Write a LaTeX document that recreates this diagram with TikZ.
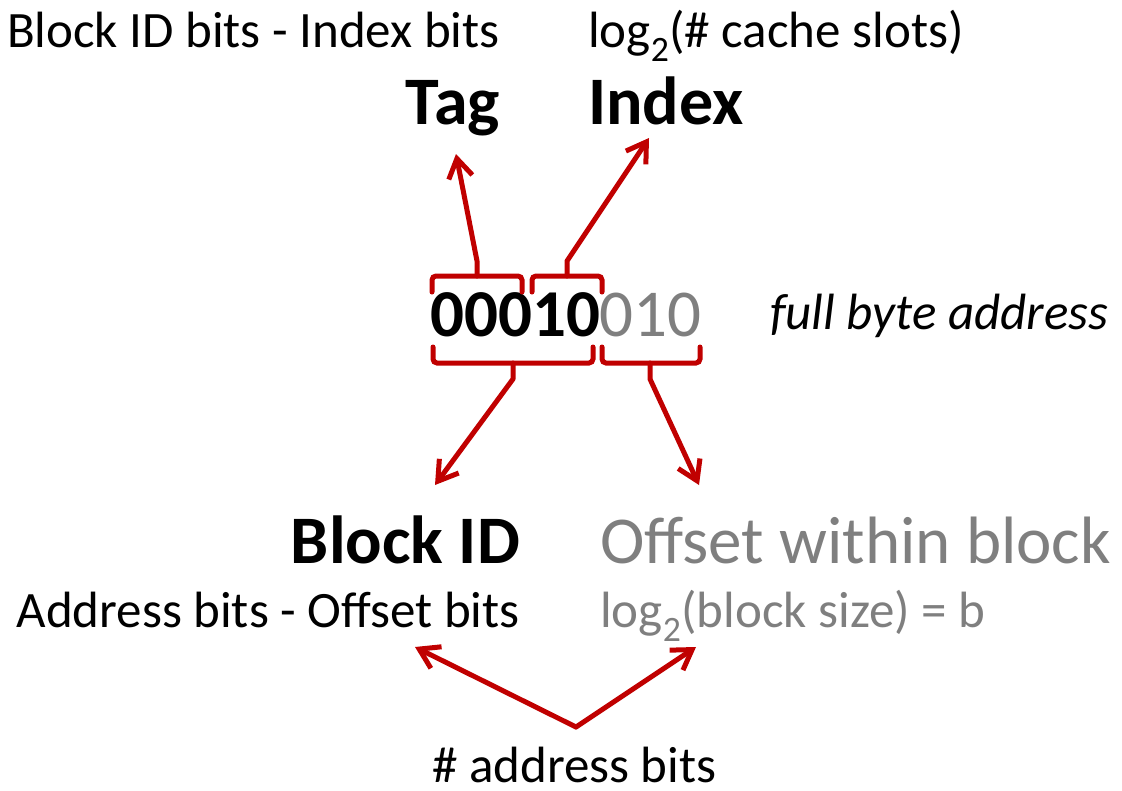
\documentclass[tikz,border=0pt]{standalone}
\usepackage{fontspec}
\setmainfont{Carlito}
\usetikzlibrary{arrows.meta}
\definecolor{accent}{HTML}{C00000}
\definecolor{muted}{HTML}{7F7F7F}

\begin{document}
\begin{tikzpicture}[x=1pt,y=-1pt,
  lbl/.style={inner sep=0pt, anchor=base west},
  lblr/.style={inner sep=0pt, anchor=base east},
  small/.style={font=\fontsize{51}{60}\selectfont},
  big/.style={font=\fontsize{67}{80}\selectfont},
  bigbold/.style={font=\fontsize{68}{80}\selectfont\bfseries},
  brace/.style={draw=accent, line width=5pt, rounded corners=4pt, line cap=round},
  pointer/.style={draw=accent, line width=5pt, line join=round, line cap=round,
    -{Straight Barb[length=19pt,width=24pt]}}]
\useasboundingbox (0,0) rectangle (1122,790);

% labels
\node[lblr, small] (tagrule) at (500,47) {Block ID bits - Index bits};
\node[lbl, small] (idxrule) at (588,47) {log\textsubscript{2}(\# cache slots)};
\node[lblr, bigbold] (tag) at (500,124) {Tag};
\node[lbl, bigbold] (index) at (588,124) {Index};
\node[lbl, font=\fontsize{67}{78}\selectfont] (addr) at (430,336) {\textbf{00010}\textcolor{muted}{010}};
\node[lbl, font=\fontsize{51}{60}\selectfont\itshape] (full) at (770,329) {full byte address};
\node[lblr, bigbold] (blockid) at (520,563) {Block ID};
\node[lbl, big, text=muted] (offset) at (600,563) {Offset within block};
\node[lblr, small] (blockrule) at (520,627) {Address bits - Offset bits};
\node[lbl, small, text=muted] (offrule) at (600,627) {log\textsubscript{2}(block size) = b};
\node[lbl, small] (nbits) at (432,782) {\# address bits};

% brace stubs and arrow tips
\coordinate (tagfoot) at (477,261);
\coordinate (tagtip) at (456,154);
\coordinate (idxfoot) at (567,261);
\coordinate (idxtip) at (649,138);
\coordinate (blkfoot) at (513,379);
\coordinate (blktip) at (435,485);
\coordinate (offfoot) at (650,379);
\coordinate (offtip) at (699,485);
\coordinate (apex) at (576,727);
\coordinate (lefttip) at (415,647);
\coordinate (righttip) at (696,647);

% brackets over the tag and index bits
\draw[brace] (432,292) |- (522,276) -- (522,292);
\draw[brace] (532,292) |- (602,276) -- (602,292);
% brackets under the block id and offset bits
\draw[brace] (433,347) |- (593,363) -- (593,347);
\draw[brace] (602,347) |- (700,363) -- (700,347);

% pointers
\draw[pointer] (477,276) -- (tagfoot) -- (tagtip);
\draw[pointer] (567,276) -- (idxfoot) -- (idxtip);
\draw[pointer] (513,363) -- (blkfoot) -- (blktip);
\draw[pointer] (650,363) -- (offfoot) -- (offtip);
\draw[pointer] (apex) -- (lefttip);
\draw[pointer] (apex) -- (righttip);
\end{tikzpicture}
\end{document}
